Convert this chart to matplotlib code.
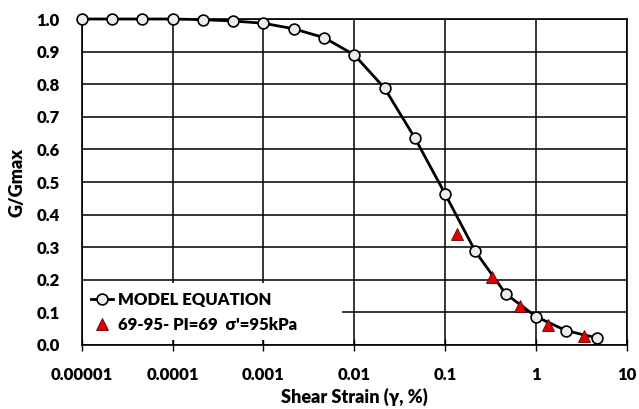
import numpy as np
import matplotlib
matplotlib.use("Agg")
import matplotlib.pyplot as plt
from matplotlib.patches import Rectangle

plt.rcParams['font.family'] = ['Lato', 'DejaVu Sans']
plt.rcParams['font.weight'] = 'heavy'

# model curve (G/Gmax vs shear strain %)
model_strain = [1e-5, 2.15e-5, 4.64e-5, 1e-4, 2.15e-4, 4.64e-4, 1e-3, 2.15e-3, 4.64e-3,
                0.01, 0.0215, 0.0464, 0.1, 0.215, 0.464, 1.0, 2.15, 4.64]
model_g = [1.0, 1.0, 1.0, 1.0, 0.998, 0.994, 0.987, 0.970, 0.943,
           0.89, 0.788, 0.635, 0.463, 0.287, 0.157, 0.087, 0.044, 0.022]

# test data 69-95
test_strain = [0.135, 0.327, 0.66, 1.35, 3.4]
test_g = [0.34, 0.21, 0.12, 0.062, 0.027]

xticks = [1e-5, 1e-4, 1e-3, 1e-2, 1e-1, 1, 10]
xtick_labels = ['0.00001', '0.0001', '0.001', '0.01', '0.1', '1', '10']
yticks = np.round(np.arange(0, 1.01, 0.1), 1)

fig = plt.figure(figsize=(6.39, 4.09), dpi=100)
ax = fig.add_axes([0.128, 0.1565, 0.853, 0.797])

ax.plot(model_strain, model_g, color='black', lw=2, marker='o', ms=7.8,
        mfc='#ececec', mec='black', mew=1.2, label='MODEL EQUATION',
        clip_on=False, zorder=4)
ax.plot(test_strain, test_g, ls='none', marker='^', ms=8.5, mfc='#e00000',
        mec='#600000', mew=0.6, label="69-95- PI=69  \u03c3'=95kPa",
        clip_on=False, zorder=5)

ax.set_xscale('log')
ax.set_xlim(1e-5, 10)
ax.set_ylim(0, 1.0)
ax.set_xticks(xticks)
ax.set_xticklabels(xtick_labels)
ax.minorticks_off()
ax.set_yticks(yticks)
ax.set_yticklabels([f'{v:.1f}' for v in yticks])

ax.grid(True, which='major', color='black', lw=1.1)
ax.tick_params(axis='x', direction='inout', length=8, width=1, pad=12, labelsize=12)
ax.tick_params(axis='y', length=0, pad=16, labelsize=12)
for s in ax.spines.values():
    s.set_linewidth(1.2)

ax.set_xlabel('Shear Strain (\u03b3, %)', fontsize=13, fontweight='heavy', labelpad=3)
ax.set_ylabel('G/Gmax', fontsize=13, fontweight='heavy', labelpad=8)

# white box behind the legend, hiding the grid (ticks stay visible)
ax.add_patch(Rectangle((0.002, 0.016), 0.475, 0.174, transform=ax.transAxes,
                       facecolor='white', edgecolor='none', zorder=2))

leg = ax.legend(loc='lower left', bbox_to_anchor=(0.0, 0.01), frameon=False,
                fontsize=12, handlelength=1.3, handletextpad=0.3,
                borderpad=0.45, labelspacing=0.5, borderaxespad=0.1)
for t in leg.get_texts():
    t.set_fontweight('heavy')

fig.savefig('out.png', dpi=100)
